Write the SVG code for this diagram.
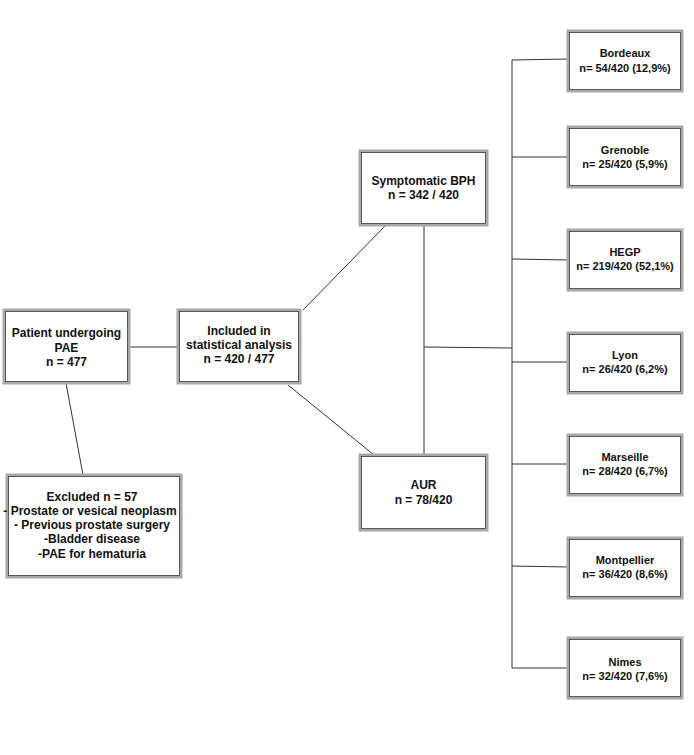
<svg xmlns="http://www.w3.org/2000/svg" width="694" height="755" viewBox="0 0 694 755">
<style>
.o{fill:#fff;stroke:#a8a8a8;stroke-width:3}
.i{fill:none;stroke:#3a3a3a;stroke-width:0.8}
.t{font-family:"Liberation Sans",Arial,sans-serif;font-weight:bold;font-size:12px;fill:#111;text-anchor:middle}
.s{font-size:11px}
.c{stroke:#333;stroke-width:1;fill:none}
</style>
<rect width="694" height="755" fill="#fff"/>
<g id="connectors">
<line class="c" x1="129" y1="347" x2="178" y2="347"/>
<line class="c" x1="66" y1="383" x2="83" y2="475"/>
<line class="c" x1="303" y1="310" x2="385" y2="226"/>
<line class="c" x1="288" y1="385" x2="374" y2="455"/>
<line class="c" x1="424" y1="225" x2="424" y2="455"/>
<line class="c" x1="424" y1="347" x2="512" y2="348"/>
<line class="c" x1="512" y1="60" x2="512" y2="668"/>
<line class="c" x1="512" y1="60" x2="568" y2="59"/>
<line class="c" x1="512" y1="157" x2="568" y2="157"/>
<line class="c" x1="512" y1="259" x2="568" y2="260"/>
<line class="c" x1="512" y1="362" x2="568" y2="362"/>
<line class="c" x1="512" y1="464" x2="568" y2="464"/>
<line class="c" x1="512" y1="566" x2="568" y2="567"/>
<line class="c" x1="512" y1="668" x2="568" y2="668"/>
</g>
<g id="patient">
<rect class="o" x="4" y="310" width="125" height="73"/><rect class="i" x="5.5" y="311.5" width="122" height="70"/>
<text class="t" x="66.5" y="337">Patient undergoing</text>
<text class="t" x="66.5" y="352">PAE</text>
<text class="t" x="66.5" y="366">n = 477</text>
</g>
<g id="included">
<rect class="o" x="178" y="310" width="122" height="73"/><rect class="i" x="179.5" y="311.5" width="119" height="70"/>
<text class="t" x="239" y="335">Included in</text>
<text class="t" x="239" y="349">statistical analysis</text>
<text class="t" x="239" y="363">n = 420 / 477</text>
</g>
<g id="excluded">
<rect class="o" x="7" y="475" width="174" height="102"/><rect class="i" x="8.5" y="476.5" width="171" height="99"/>
<text class="t" x="92" y="501">Excluded n = 57</text>
<text class="t" x="90" y="515">- Prostate or vesical neoplasm</text>
<text class="t" x="92" y="529">- Previous prostate surgery</text>
<text class="t" x="92" y="543">-Bladder disease</text>
<text class="t" x="92" y="558">-PAE for hematuria</text>
</g>
<g id="bph">
<rect class="o" x="360" y="151" width="127" height="74"/><rect class="i" x="361.5" y="152.5" width="124" height="71"/>
<text class="t" x="423.5" y="185">Symptomatic BPH</text>
<text class="t" x="423.5" y="199">n = 342 / 420</text>
</g>
<g id="aur">
<rect class="o" x="360" y="455" width="127" height="75"/><rect class="i" x="361.5" y="456.5" width="124" height="72"/>
<text class="t" x="423.5" y="489">AUR</text>
<text class="t" x="423.5" y="504">n = 78/420</text>
</g>
<g id="bordeaux">
<rect class="o" x="568" y="31" width="114" height="60"/><rect class="i" x="569.5" y="32.5" width="111" height="57"/>
<text class="t s" x="625" y="57">Bordeaux</text>
<text class="t s" x="625" y="72">n= 54/420 (12,9%)</text>
</g>
<g id="grenoble">
<rect class="o" x="568" y="127" width="114" height="60"/><rect class="i" x="569.5" y="128.5" width="111" height="57"/>
<text class="t s" x="625" y="154">Grenoble</text>
<text class="t s" x="625" y="168">n= 25/420 (5,9%)</text>
</g>
<g id="hegp">
<rect class="o" x="568" y="230" width="114" height="60"/><rect class="i" x="569.5" y="231.5" width="111" height="57"/>
<text class="t s" x="625" y="256">HEGP</text>
<text class="t s" x="625" y="270">n= 219/420 (52,1%)</text>
</g>
<g id="lyon">
<rect class="o" x="568" y="333" width="114" height="60"/><rect class="i" x="569.5" y="334.5" width="111" height="57"/>
<text class="t s" x="625" y="359">Lyon</text>
<text class="t s" x="625" y="373">n= 26/420 (6,2%)</text>
</g>
<g id="marseille">
<rect class="o" x="568" y="435" width="114" height="60"/><rect class="i" x="569.5" y="436.5" width="111" height="57"/>
<text class="t s" x="625" y="461">Marseille</text>
<text class="t s" x="625" y="475">n= 28/420 (6,7%)</text>
</g>
<g id="montpellier">
<rect class="o" x="568" y="538" width="114" height="60"/><rect class="i" x="569.5" y="539.5" width="111" height="57"/>
<text class="t s" x="625" y="564">Montpellier</text>
<text class="t s" x="625" y="578">n= 36/420 (8,6%)</text>
</g>
<g id="nimes">
<rect class="o" x="568" y="638" width="114" height="60"/><rect class="i" x="569.5" y="639.5" width="111" height="57"/>
<text class="t s" x="625" y="666">Nimes</text>
<text class="t s" x="625" y="680">n= 32/420 (7,6%)</text>
</g>
</svg>
